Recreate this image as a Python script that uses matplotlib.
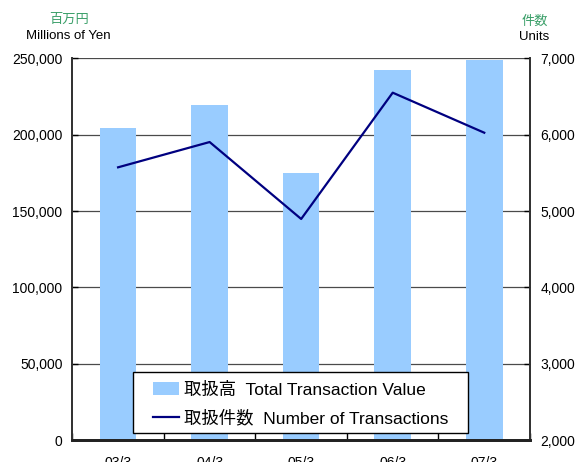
import matplotlib

matplotlib.use("Agg")
import matplotlib.pyplot as plt
from matplotlib.patches import Rectangle
import numpy as np

plt.rcParams["font.family"] = ["Liberation Sans", "Noto Sans CJK JP"]

# data
periods = ["03/3", "04/3", "05/3", "06/3", "07/3"]
value_myen = [204400, 219400, 174900, 242300, 248900]
num_transactions = [5573, 5904, 4897, 6550, 6026]

bar_color = "#99CCFF"
line_color = "#000080"
green = "#3CA06A"

fig = plt.figure(figsize=(5.78, 4.62), dpi=100)
ax = fig.add_axes([0.1251, 0.047, 0.917 - 0.1251, 0.8738 - 0.047])
ax2 = ax.twinx()

x = np.arange(len(periods))
bars = ax.bar(x, value_myen, width=0.4, color=bar_color, zorder=2,
              label="取扱高  Total Transaction Value")
line, = ax2.plot(x, num_transactions, color=line_color, lw=1.6, zorder=2,
                 label="取扱件数  Number of Transactions")

ax.set_xlim(-0.5, len(periods) - 0.5)
ax.set_ylim(0, 250000)
ax2.set_ylim(2000, 7000)
ax.set_yticks(np.arange(0, 250001, 50000))
ax.set_yticklabels([f"{v:,}" for v in range(0, 250001, 50000)])
ax2.set_yticks(np.arange(2000, 7001, 1000))
ax2.set_yticklabels([f"{v:,}" for v in range(2000, 7001, 1000)])

ax.set_axisbelow(True)
ax.yaxis.grid(True, color="#4a4a4a", lw=0.9)

# category boundary ticks, labels at centres
ax.set_xticks(np.arange(-0.5, len(periods), 1.0))
ax.set_xticklabels([])
ax.set_xticks(x, minor=True)
ax.set_xticklabels(periods, minor=True)
ax.tick_params(axis="x", which="major", direction="in", length=5, width=1, color="black")
ax.tick_params(axis="x", which="minor", length=0, pad=11, labelsize=10)
ax.tick_params(axis="y", direction="in", length=4, width=1, labelsize=10, pad=7)
ax2.tick_params(axis="y", direction="in", length=4, width=1, labelsize=10, pad=7.5)

for a in (ax, ax2):
    a.spines["top"].set_visible(False)
    a.spines["left"].set_color("#333333")
    a.spines["right"].set_color("#333333")
    a.spines["left"].set_linewidth(1.3)
    a.spines["right"].set_linewidth(1.3)
    a.spines["bottom"].set_linewidth(2)
    a.spines["bottom"].set_color("#222222")

# legend frame drawn by hand so it can be wider than the entries
ax2.add_patch(Rectangle((0.1330, 0.0188), 0.7318, 0.1597, transform=ax2.transAxes,
                        facecolor="white", edgecolor="black", lw=1, zorder=4))
leg = ax2.legend([bars, line], [bars.get_label(), line.get_label()],
                 loc="center", bbox_to_anchor=(0.4986, 0.095), fontsize=12.5,
                 frameon=False, handlelength=1.5, handleheight=0.72,
                 handletextpad=0.3, labelspacing=0.68, borderpad=0.3)
leg.set_zorder(5)

fig.text(69 / 578, 1 - 20 / 462, "百万円", color=green, fontsize=9.5, ha="center", va="center")
fig.text(68 / 578, 1 - 36 / 462, "Millions of Yen", fontsize=9.5, ha="center", va="center")
fig.text(535 / 578, 1 - 22 / 462, "件数", color=green, fontsize=9.5, ha="center", va="center")
fig.text(534 / 578, 1 - 37 / 462, "Units", fontsize=9.5, ha="center", va="center")

fig.savefig("out.png", dpi=100)
